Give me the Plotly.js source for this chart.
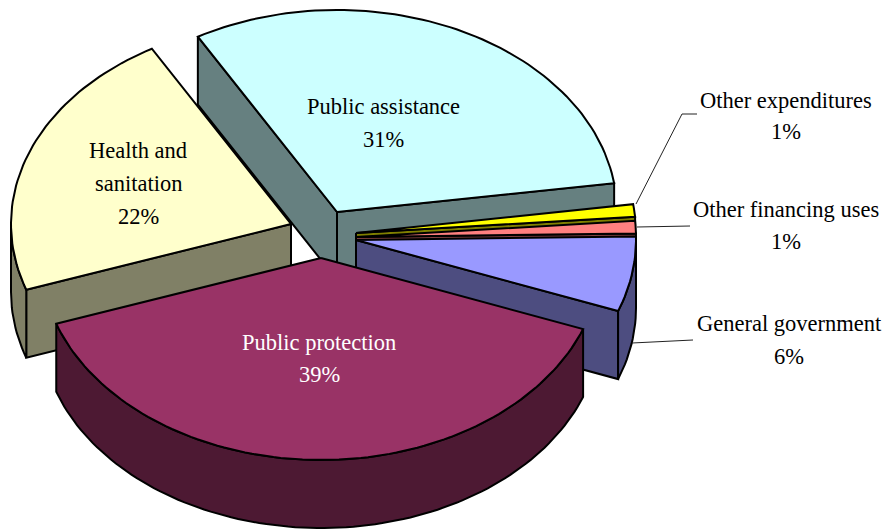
<!DOCTYPE html>
<html>
<head>
<meta charset="utf-8">
<script src="https://cdn.plot.ly/plotly-3.0.1.min.js"></script>
<style>html,body{margin:0;padding:0;background:#fff}#chart{width:882px;height:529px}</style>
</head>
<body>
<div id="chart"></div>
<script>
// County expenditure shares, in percent, clockwise from the public assistance wedge.
const categories = ['Public assistance', 'Other expenditures', 'Other financing uses',
                    'General government', 'Public protection', 'Health and sanitation'];
const shares = [31, 1, 1, 6, 39, 22];
const topColors = ['#CCFFFF', '#FFFF00', '#FF8080', '#9999FF', '#993366', '#FFFFCC'];
const sideColors = ['#668080', '#808000', '#804040', '#4D4D80', '#4D1933', '#808066'];

// Exploded position of each wedge's apex on the page.
const apexX = [337, 356, 356, 356, 321, 291];
const apexY = [212, 233, 237, 240, 258, 224];

// Label lines for each wedge: position of every line, then the share underneath.
const labelLines = [
  {cat: 0, text: ['Public assistance'], x: 383, y: [106, 139], color: '#000'},
  {cat: 1, text: ['Other expenditures'], x: 786, y: [100, 131], color: '#000'},
  {cat: 2, text: ['Other financing uses'], x: 786, y: [209, 241], color: '#000'},
  {cat: 3, text: ['General government'], x: 789, y: [323, 356], color: '#000'},
  {cat: 4, text: ['Public protection'], x: 319, y: [342, 374], color: '#fff'},
  {cat: 5, text: ['Health and', 'sanitation'], x: 138, y: [150, 183, 216], color: '#000'}
];

// Leader lines from the small wedges out to their labels.
const leaders = [
  {x: [636, 682, 697], y: [204, 114, 114]},
  {x: [637, 690], y: [227, 226]},
  {x: [632, 693], y: [343, 340]}
];

// Projection of the tilted pie.
const RX = 280, RY = 202, DEPTH = 68, START_DEG = 240.2;
const rad = d => d * Math.PI / 180;

function arc(cx, cy, from, to, dy) {
  const xs = [], ys = [];
  const n = Math.max(2, Math.ceil(Math.abs(to - from) / 1.5));
  for (let i = 0; i <= n; i++) {
    const t = rad(from + (to - from) * i / n);
    xs.push(cx + RX * Math.cos(t));
    ys.push(cy + RY * Math.sin(t) + dy);
  }
  return {xs, ys};
}

function poly(xs, ys, fill) {
  return {
    type: 'scatter', mode: 'lines', x: xs, y: ys, fill: 'toself', fillcolor: fill,
    line: {color: '#000', width: 2, shape: 'linear'}, hoverinfo: 'skip', showlegend: false
  };
}

function radialFace(cx, cy, deg, fill) {
  const e = arc(cx, cy, deg, deg, 0);
  const ex = e.xs[0], ey = e.ys[0];
  return poly([cx, ex, ex, cx, cx], [cy, ey, ey + DEPTH, cy + DEPTH, cy], fill);
}

// Each wedge: the cut faces turned toward the viewer, the visible stretch of rim, then the top.
function wedgeTraces(i, from, to) {
  const cx = apexX[i], cy = apexY[i], out = [];
  if (Math.cos(rad(from)) < 0) out.push(radialFace(cx, cy, from, sideColors[i]));
  if (Math.cos(rad(to)) > 0) out.push(radialFace(cx, cy, to, sideColors[i]));
  [[Math.max(from, 0), Math.min(to, 180)], [Math.max(from, 360), Math.min(to, 540)]].forEach(([a, b]) => {
    if (b > a) {
      const top = arc(cx, cy, a, b, 0), bot = arc(cx, cy, b, a, DEPTH);
      out.push(poly(top.xs.concat(bot.xs, top.xs[0]), top.ys.concat(bot.ys, top.ys[0]), sideColors[i]));
    }
  });
  const rim = arc(cx, cy, from, to, 0);
  out.push(poly([cx].concat(rim.xs, cx), [cy].concat(rim.ys, cy), topColors[i]));
  return out;
}

const total = shares.reduce((a, b) => a + b, 0);
const spans = [];
let cursor = START_DEG;
shares.forEach(v => {
  const sweep = v / total * 360;
  spans.push([cursor, cursor + sweep]);
  cursor += sweep;
});

// Back-to-front painting order.
const paintOrder = [0, 5, 1, 2, 3, 4];
let traces = [];
paintOrder.forEach(i => {
  // the health wedge wraps past a full turn, so express it in the first turn
  const wrap = spans[i][0] >= 500 ? 360 : 0;
  traces = traces.concat(wedgeTraces(i, spans[i][0] - wrap, spans[i][1] - wrap));
});

leaders.forEach(l => traces.push({
  type: 'scatter', mode: 'lines', x: l.x, y: l.y,
  line: {color: '#222', width: 1}, hoverinfo: 'skip', showlegend: false
}));

const annotations = [];
labelLines.forEach(l => {
  const lines = l.text.concat(shares[l.cat] + '%');
  lines.forEach((t, k) => annotations.push({
    x: l.x, y: l.y[k], xref: 'x', yref: 'y', text: t, showarrow: false,
    xanchor: 'center', yanchor: 'middle',
    font: {family: '"Liberation Serif", serif', size: 22.5, color: l.color}
  }));
});

const hidden = {visible: false, fixedrange: true};
Plotly.newPlot('chart', traces, {
  width: 882, height: 529,
  margin: {l: 0, r: 0, t: 0, b: 0},
  paper_bgcolor: '#fff', plot_bgcolor: '#fff',
  xaxis: Object.assign({range: [0, 882]}, hidden),
  yaxis: Object.assign({range: [529, 0]}, hidden),
  annotations,
  showlegend: false
}, {displayModeBar: false, staticPlot: true});
</script>
</body>
</html>
